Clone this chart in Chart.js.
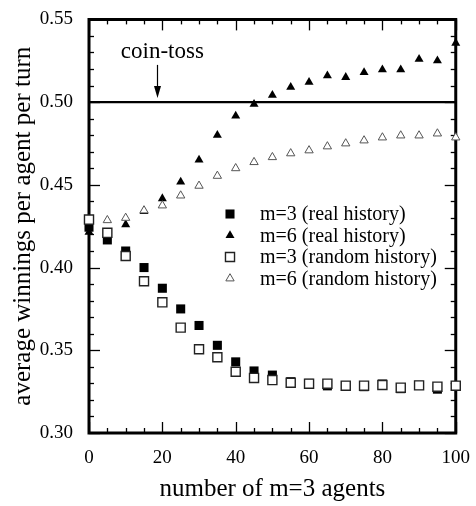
<!DOCTYPE html>
<html>
<head>
<meta charset="utf-8">
<script src="https://cdn.jsdelivr.net/npm/chart.js@4"></script>
<style>
	html, body { margin: 0; padding: 0; background: #fff; }
	#chart { display: block; }
</style>
</head>
<body>
<canvas id="chart" width="476" height="506"></canvas>
<script>
const AGENTS = [0, 5, 10, 15, 20, 25, 30, 35, 40, 45, 50, 55, 60, 65, 70, 75, 80, 85, 90, 95, 100];
const M3_REAL = [0.4244, 0.4167, 0.410, 0.400, 0.3875, 0.375, 0.365, 0.353, 0.343, 0.3375, 0.335, 0.331, 0.330, 0.3285, 0.3286, 0.328, 0.3296, 0.3268, 0.3288, 0.3265, 0.3286];
const M6_REAL = [0.4214, 0.420, 0.426, 0.434, 0.4417, 0.4518, 0.465, 0.480, 0.4917, 0.4988, 0.5042, 0.509, 0.512, 0.516, 0.515, 0.518, 0.5196, 0.5196, 0.526, 0.525, 0.5357];
const M3_RANDOM = [0.429, 0.421, 0.407, 0.3917, 0.379, 0.3637, 0.3506, 0.3458, 0.337, 0.3333, 0.332, 0.3304, 0.3298, 0.3298, 0.3286, 0.3286, 0.329, 0.3274, 0.3288, 0.328, 0.3286];
const M6_RANDOM = [0.428, 0.4286, 0.430, 0.4345, 0.4375, 0.4435, 0.4494, 0.4554, 0.460, 0.4637, 0.4667, 0.469, 0.4708, 0.4732, 0.475, 0.4768, 0.4786, 0.4798, 0.4798, 0.481, 0.4786];
const COIN_TOSS = 0.5;
const X_RANGE = [0, 100];
const Y_RANGE = [0.30, 0.55];
const LEGEND_LABELS = ['m=3 (real history)', 'm=6 (real history)', 'm=3 (random history)', 'm=6 (random history)'];

const SERIF = '"Liberation Serif", "DejaVu Serif", serif';

function toPoints(values) {
	return AGENTS.map((x, i) => ({ x: x, y: values[i] }));
}

function markerSet(label, values, style, filled, radius, order) {
	return {
		type: 'scatter',
		label: label,
		data: toPoints(values),
		pointStyle: style,
		pointRadius: radius,
		pointHoverRadius: radius,
		backgroundColor: filled ? '#000' : '#fff',
		borderColor: filled ? '#000' : (style === 'triangle' ? '#555' : '#222'),
		borderWidth: filled ? 0 : (style === 'triangle' ? 1 : 1.4),
		clip: false,
		order: order,
	};
}

function drawMarker(ctx, style, r, x, y) {
	if (style === 'rect') {
		const s = Math.SQRT1_2 * r;
		ctx.rect(x - s, y - s, 2 * s, 2 * s);
	} else {
		const w = r * Math.sin(2 * Math.PI / 3);
		ctx.moveTo(x, y - r);
		ctx.lineTo(x + w, y + r / 2);
		ctx.lineTo(x - w, y + r / 2);
		ctx.closePath();
	}
}

// inward ticks on all four sides plus the heavy box
function drawFrame(ctx, xs, ys) {
	const x0 = xs.getPixelForValue(X_RANGE[0]);
	const x1 = xs.getPixelForValue(X_RANGE[1]);
	const y0 = ys.getPixelForValue(Y_RANGE[1]);
	const y1 = ys.getPixelForValue(Y_RANGE[0]);
	ctx.save();
	ctx.setLineDash([]);
	ctx.globalAlpha = 1;
	ctx.strokeStyle = '#000000';
	ctx.lineWidth = 1.3;
	for (let v = X_RANGE[0]; v <= X_RANGE[1]; v += 5) {
		const px = Math.round(xs.getPixelForValue(v)) + 0.5;
		const len = v % 20 === 0 ? 11 : 5;
		ctx.beginPath();
		ctx.moveTo(px, y1);
		ctx.lineTo(px, y1 - len);
		ctx.stroke();
		ctx.beginPath();
		ctx.moveTo(px, y0);
		ctx.lineTo(px, y0 + len);
		ctx.stroke();
	}
	for (let i = 0; i <= 25; i++) {
		const py = Math.round(ys.getPixelForValue(Y_RANGE[0] + i * 0.01)) + 0.5;
		const len = i % 5 === 0 ? 11 : 5;
		ctx.beginPath();
		ctx.moveTo(x0, py);
		ctx.lineTo(x0 + len, py);
		ctx.stroke();
		ctx.beginPath();
		ctx.moveTo(x1, py);
		ctx.lineTo(x1 - len, py);
		ctx.stroke();
	}
	ctx.lineWidth = 3;
	ctx.beginPath();
	ctx.moveTo(x0, y0);
	ctx.lineTo(x1, y0);
	ctx.lineTo(x1, y1);
	ctx.lineTo(x0, y1);
	ctx.closePath();
	ctx.stroke();
	ctx.restore();
}

const decorations = {
	id: 'decorations',
	beforeDatasetsDraw(chart) {
		drawFrame(chart.ctx, chart.scales.x, chart.scales.y);
	},
	afterDatasetsDraw(chart) {
		const ctx = chart.ctx;
		const xs = chart.scales.x;
		const ys = chart.scales.y;

		// coin-toss label and arrow
		ctx.save();
		const ax = Math.round(xs.getPixelForValue(18.5)) + 0.5;
		const ya = ys.getPixelForValue(0.5225);
		const yb = ys.getPixelForValue(0.5025);
		ctx.strokeStyle = '#000';
		ctx.lineWidth = 1.2;
		ctx.beginPath();
		ctx.moveTo(ax, ya);
		ctx.lineTo(ax, yb - 6);
		ctx.stroke();
		ctx.beginPath();
		ctx.moveTo(ax, yb);
		ctx.lineTo(ax - 3.5, yb - 12);
		ctx.lineTo(ax + 3.5, yb - 12);
		ctx.closePath();
		ctx.fillStyle = '#000';
		ctx.fill();
		ctx.font = '23px ' + SERIF;
		ctx.textAlign = 'center';
		ctx.textBaseline = 'alphabetic';
		ctx.fillText('coin-toss', xs.getPixelForValue(20), ys.getPixelForValue(0.5265));
		ctx.restore();
	},
	afterDraw(chart) {
		const ctx = chart.ctx;
		ctx.save();
		ctx.font = '20px ' + SERIF;
		ctx.textAlign = 'left';
		ctx.textBaseline = 'middle';
		chart.data.datasets.slice(0, 4).forEach((ds, row) => {
			const y = 214 + row * 21.5;
			ctx.fillStyle = ds.backgroundColor;
			ctx.strokeStyle = ds.borderColor;
			ctx.lineWidth = ds.borderWidth;
			ctx.beginPath();
			drawMarker(ctx, ds.pointStyle, ds.pointRadius, 230, y);
			ctx.fill();
			if (ds.borderWidth) ctx.stroke();
			ctx.fillStyle = '#000';
			ctx.fillText(LEGEND_LABELS[row], 260, y + 1);
		});
		ctx.restore();
	},
};

const chart = new Chart(document.getElementById('chart'), {
	type: 'scatter',
	data: {
		datasets: [
			markerSet(LEGEND_LABELS[0], M3_REAL, 'rect', true, 6.4, 3),
			markerSet(LEGEND_LABELS[1], M6_REAL, 'triangle', true, 5.2, 3),
			markerSet(LEGEND_LABELS[2], M3_RANDOM, 'rect', false, 6.4, 2),
			markerSet(LEGEND_LABELS[3], M6_RANDOM, 'triangle', false, 4.8, 2),
			{
				type: 'line',
				label: 'coin-toss',
				data: [{ x: X_RANGE[0], y: COIN_TOSS }, { x: X_RANGE[1], y: COIN_TOSS }],
				borderColor: '#000',
				borderWidth: 2.2,
				pointRadius: 0,
				order: 4,
			},
		],
	},
	options: {
		responsive: false,
		animation: false,
		layout: {
			padding: { top: 13, right: 17, left: 0, bottom: 0 },
		},
		scales: {
			x: {
				type: 'linear',
				min: X_RANGE[0],
				max: X_RANGE[1],
				grid: { display: false },
				border: { display: false },
				ticks: {
					stepSize: 20,
					color: '#000',
					padding: 6,
					maxRotation: 0,
					font: { family: SERIF, size: 19 },
				},
				title: {
					display: true,
					text: 'number of m=3 agents',
					color: '#000',
					font: { family: SERIF, size: 25 },
					padding: { top: 0, bottom: 2 },
				},
				afterFit(scale) {
					scale.height = 73;
				},
			},
			y: {
				type: 'linear',
				min: Y_RANGE[0],
				max: Y_RANGE[1],
				grid: { display: false },
				border: { display: false },
				ticks: {
					stepSize: 0.05,
					color: '#000',
					padding: 8,
					font: { family: SERIF, size: 19 },
					callback: value => value.toFixed(2),
				},
				title: {
					display: true,
					text: 'average winnings per agent per turn',
					color: '#000',
					font: { family: SERIF, size: 25 },
					padding: { top: 8, bottom: 0 },
				},
				afterFit(scale) {
					scale.width = 89;
				},
			},
		},
		plugins: {
			legend: { display: false },
			tooltip: { enabled: false },
		},
	},
	plugins: [decorations],
});
</script>
</body>
</html>
